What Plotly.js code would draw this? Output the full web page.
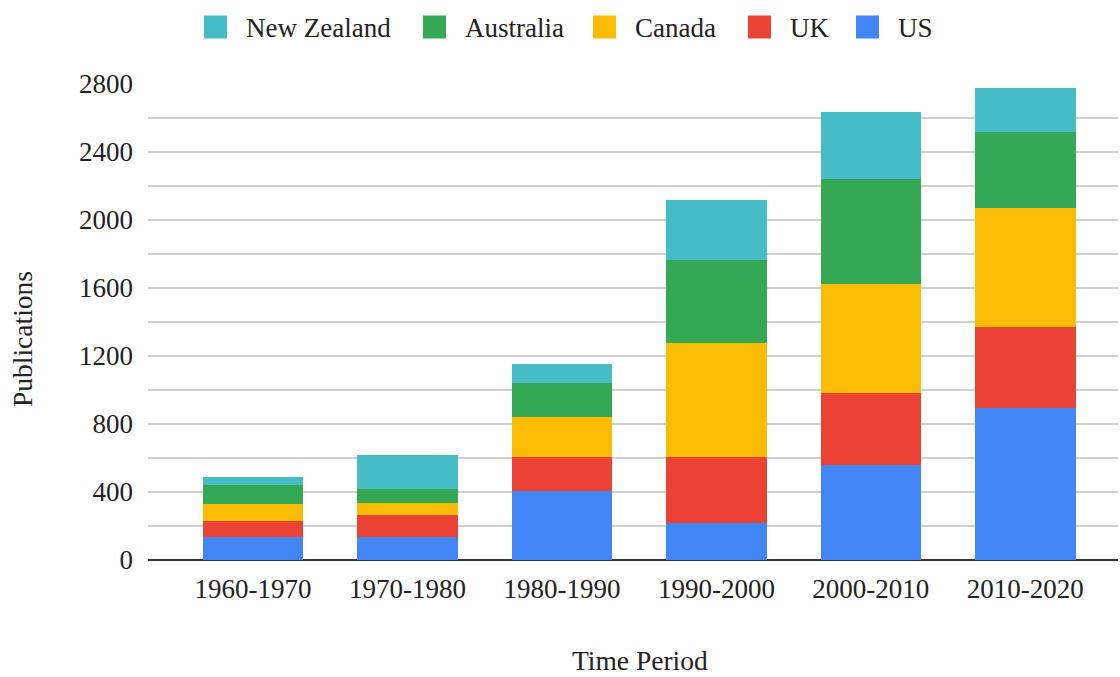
<!DOCTYPE html>
<html>
<head>
<meta charset="utf-8">
<script src="https://cdn.plot.ly/plotly-3.0.1.min.js"></script>
<style>html,body{margin:0;padding:0;background:#fff;}#chart{width:1120px;height:677px;}</style>
</head>
<body>
<div id="chart"></div>
<script>
const periods = ["1960-1970", "1970-1980", "1980-1990", "1990-2000", "2000-2010", "2010-2020"];
const us = [137, 137, 408, 220, 561, 892];
const uk = [94, 128, 200, 388, 423, 480];
const canada = [96, 72, 235, 670, 638, 697];
const australia = [114, 81, 200, 485, 621, 447];
const newZealand = [49, 202, 108, 353, 390, 260];

const seriesNames = ["US", "UK", "Canada", "Australia", "New Zealand"];
const seriesValues = [us, uk, canada, australia, newZealand];
const seriesColors = ["#4285F4", "#EA4335", "#FBBC04", "#34A853", "#46BDC6"];
const xTitle = "Time Period";
const yTitle = "Publications";

const traces = seriesNames.map((name, i) => ({
  type: "bar",
  name: name,
  x: periods,
  y: seriesValues[i],
  marker: {
    color: seriesColors[i],
    line: {width: 0},
    cornerradius: i === seriesNames.length - 1 ? 4 : 0
  },
  hoverinfo: "x+y+name",
  showlegend: false
}));

const font = "Liberation Serif, Times New Roman, serif";
const textColor = "#222";

// Plot area geometry in pixels (for placing legend and titles)
const W = 1120, H = 677;
const M = {l: 148, r: 2, t: 84, b: 117};
const plotW = W - M.l - M.r, plotH = H - M.t - M.b;
const px2x = px => (px - M.l) / plotW;
const py2y = py => (H - M.b - py) / plotH;

// Legend (reversed order, as in the reference): swatch left edges in pixels
const legendOrder = [4, 3, 2, 1, 0];
const swatchLeft = [204, 423, 593, 748, 856];
const swatchSize = 23;
const legendCenterY = 27;

const shapes = [];
const annotations = [];
legendOrder.forEach((si, k) => {
  const x0 = swatchLeft[k];
  shapes.push({
    type: "rect", xref: "paper", yref: "paper",
    x0: px2x(x0), x1: px2x(x0 + swatchSize),
    y0: py2y(legendCenterY + swatchSize / 2), y1: py2y(legendCenterY - swatchSize / 2),
    fillcolor: seriesColors[si], line: {width: 0}
  });
  annotations.push({
    xref: "paper", yref: "paper",
    x: px2x(x0 + swatchSize + 17), y: py2y(legendCenterY + 1),
    xanchor: "left", yanchor: "middle",
    text: seriesNames[si], showarrow: false,
    font: {family: font, size: 27, color: textColor}
  });
});

// Axis titles
annotations.push({
  xref: "paper", yref: "paper", x: px2x(640), y: py2y(660),
  xanchor: "center", yanchor: "middle", showarrow: false, borderpad: 0,
  text: xTitle, font: {family: font, size: 27.5, color: textColor}
});
annotations.push({
  xref: "paper", yref: "paper", x: px2x(22), y: py2y(339),
  xanchor: "center", yanchor: "middle", showarrow: false, textangle: -90,
  text: yTitle, font: {family: font, size: 27.5, color: textColor}
});

const layout = {
  width: W,
  height: H,
  barmode: "stack",
  bargap: 0.35,
  paper_bgcolor: "#fff",
  plot_bgcolor: "#fff",
  margin: {l: M.l, r: M.r, t: M.t, b: M.b, autoexpand: false},
  font: {family: font, size: 27, color: textColor},
  showlegend: false,
  shapes: shapes,
  annotations: annotations,
  xaxis: {
    type: "category",
    range: [-0.68, 5.6],
    showgrid: false,
    ticks: "",
    ticklabelstandoff: 10,
    tickfont: {family: font, size: 27, color: textColor}
  },
  yaxis: {
    range: [0, 2800],
    dtick: 400,
    tick0: 0,
    gridcolor: "#d0d0d0",
    gridwidth: 1.5,
    zeroline: true,
    zerolinecolor: "#333",
    zerolinewidth: 2,
    ticks: "",
    ticklabelstandoff: 14,
    tickfont: {family: font, size: 27, color: textColor},
    minor: {dtick: 200, showgrid: true, gridcolor: "#d0d0d0", gridwidth: 1.5}
  }
};

Plotly.newPlot("chart", traces, layout, {displayModeBar: false, staticPlot: true});
</script>
</body>
</html>
